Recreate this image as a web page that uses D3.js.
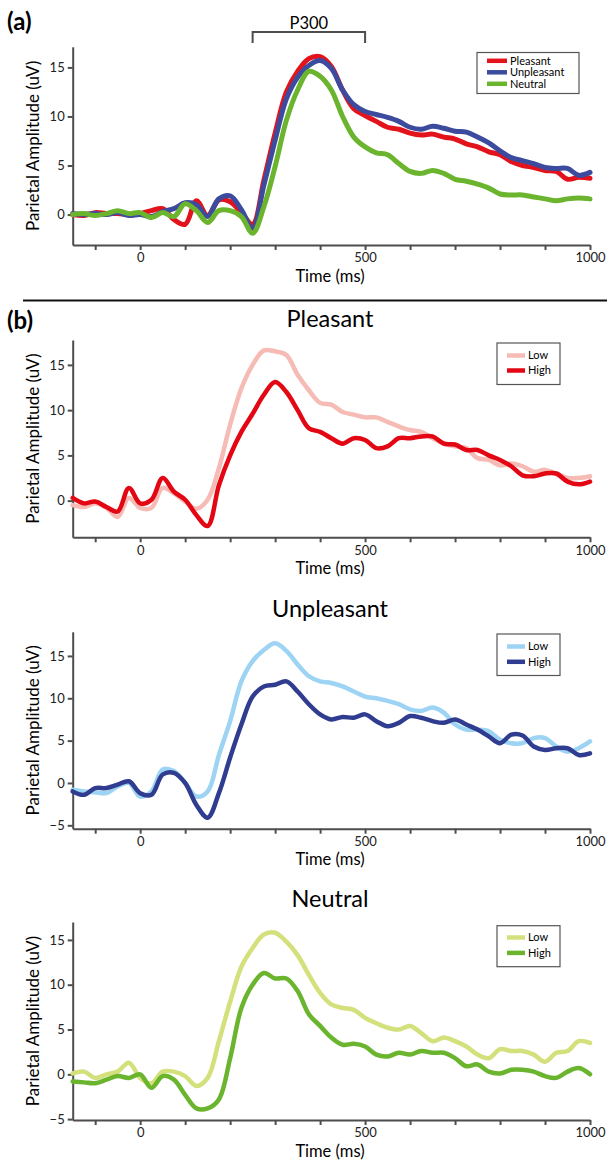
<!DOCTYPE html>
<html>
<head>
<meta charset="utf-8">
<script src="https://cdn.jsdelivr.net/npm/d3@7"></script>
<style>
  body { margin: 0; background: #fff; }
  svg { font-family: "Lato", "Open Sans", sans-serif; }
  .axis path, .axis line { stroke: #4d4d4d; stroke-width: 2px; }
  .axis text { font-size: 13px; fill: #222; font-family: "Lato", sans-serif; }
  .trace { fill: none; stroke-linejoin: round; stroke-linecap: round; }
</style>
</head>
<body>
<div id="chart"></div>
<script>
// time points (ms)
var times = [-150,-125,-100,-75,-50,-25,0,25,50,75,100,125,150,175,200,225,250,275,300,325,
  350,375,400,425,450,475,500,525,550,575,600,625,650,675,700,725,750,775,800,825,
  850,875,900,925,950,975,1000];

// (a) all trials
var allPleasant = [0.0,-0.1,0.2,0.1,0.1,0.0,0.1,0.4,0.6,-0.5,-1.0,1.4,-0.1,1.5,1.3,0.2,-1.0,3.5,8.3,12.5,
  14.6,15.9,16.1,15.1,12.7,10.8,10.1,9.5,8.9,8.7,8.3,8.1,8.2,7.9,7.7,7.2,6.9,6.4,6.1,5.4,
  5.0,4.8,4.5,4.4,3.6,3.8,3.7];
var allUnpleasant = [0.1,0.0,0.1,0.0,0.2,-0.1,0.0,-0.2,0.3,0.6,1.2,1.0,-0.2,1.6,1.9,0.5,-1.4,3.0,7.6,11.8,
  14.0,15.2,15.7,14.9,12.7,11.2,10.5,10.2,9.9,9.5,8.9,8.7,9.0,8.8,8.5,8.4,7.9,7.3,6.5,5.8,
  5.5,5.2,4.8,4.7,4.7,4.0,4.3];
var allNeutral = [0.0,0.1,-0.1,0.1,0.4,0.1,0.2,-0.3,0.2,-0.2,1.1,0.4,-0.8,0.4,0.4,-0.2,-1.9,0.8,4.9,9.6,
  12.7,14.6,14.1,12.7,10.0,7.9,6.9,6.3,6.1,5.2,4.4,4.2,4.5,4.2,3.6,3.4,3.1,2.7,2.1,2.0,
  2.0,1.8,1.6,1.4,1.6,1.7,1.6];

// (b) low / high groups
var pleasantLow = [-0.5,-0.7,-0.3,-0.8,-1.8,0.3,-0.8,-0.8,1.4,0.8,-0.1,-0.9,0.1,3.6,8.4,12.4,15.0,16.6,16.5,16.1,
  13.9,12.2,10.8,10.6,9.8,9.5,9.2,9.2,8.7,8.2,7.8,7.6,6.9,6.3,6.0,5.8,4.7,4.5,3.9,4.1,
  3.8,3.2,3.4,3.0,2.5,2.5,2.7];
var pleasantHigh = [0.3,-0.3,-0.1,-0.7,-1.2,1.4,-0.3,0.1,2.5,1.0,0.1,-1.6,-2.8,1.7,5.0,7.6,9.6,11.7,13.1,12.0,
  10.0,8.0,7.6,6.9,6.3,6.9,6.7,5.8,6.0,6.9,6.9,7.1,7.1,6.3,6.2,5.6,5.6,5.0,4.5,3.8,
  2.8,2.7,3.0,3.0,2.1,1.8,2.1];
var unpleasantLow = [-0.8,-1.0,-1.1,-1.2,-0.4,0.0,-1.6,-1.0,1.6,1.4,0.0,-1.6,-1.0,3.3,7.3,12.0,14.4,15.7,16.5,15.6,
  14.0,12.6,12.0,11.8,11.4,10.8,10.2,10.0,9.7,9.3,8.7,8.5,8.9,8.3,6.9,6.3,6.3,6.1,5.1,4.7,
  4.7,5.3,5.3,4.3,3.7,4.1,4.9];
var unpleasantHigh = [-1.0,-1.4,-0.6,-0.6,-0.2,0.2,-1.2,-1.4,1.0,1.2,0.0,-2.6,-4.1,-1.2,3.0,6.9,10.2,11.4,11.6,12.0,
  10.8,9.3,8.1,7.5,7.8,7.7,8.1,7.3,6.7,7.1,7.9,7.7,7.3,7.1,7.5,6.9,6.3,5.5,4.7,5.7,
  5.6,4.3,3.9,4.1,4.1,3.3,3.5];
var neutralLow = [0.1,0.3,-0.4,0.0,0.3,1.3,-0.4,-1.0,0.3,0.3,-0.2,-1.3,-0.4,3.7,8.1,12.0,14.1,15.6,15.8,14.8,
  13.3,11.1,9.1,7.8,7.4,7.2,6.3,5.7,5.2,5.0,5.4,4.6,3.7,4.1,3.7,3.1,2.2,1.8,2.8,2.6,
  2.6,2.2,1.4,2.4,2.6,3.7,3.5];
var neutralHigh = [-0.8,-0.9,-1.0,-0.6,-0.2,-0.4,0.0,-1.5,-0.2,-0.6,-2.3,-3.8,-3.8,-2.8,1.8,7.4,10.0,11.3,10.7,10.7,
  9.3,6.7,5.4,4.1,3.3,3.4,3.1,2.2,2.0,2.4,2.2,2.6,2.4,2.4,1.8,0.9,1.1,0.3,0.1,0.5,
  0.5,0.3,-0.2,-0.4,0.3,0.7,0.0];

var xTicks = [-100,0,100,200,300,400,500,600,700,800,900,1000];
var xLabels = [0,500,1000];

var W = 607, H = 1162;

var svg = d3.select('#chart').append('svg')
  .attr('width', W)
  .attr('height', H);

var x = d3.scaleLinear().domain([-150, 1000]).range([72.7, 590]);

var line = function(y) {
  return d3.line()
    .x(function(d, i) { return x(times[i]); })
    .y(function(d) { return y(d); })
    .curve(d3.curveCatmullRom.alpha(0.5));
};

function drawPanel(p) {
  var y = d3.scaleLinear().domain(p.yDomain).range(p.yRange);
  var g = svg.append('g');

  g.append('g')
    .attr('class', 'axis')
    .attr('transform', 'translate(0,' + p.yRange[0] + ')')
    .call(d3.axisBottom(x).tickValues(xTicks).tickSize(5).tickSizeOuter(0).tickPadding(3)
      .tickFormat(function(d) { return xLabels.indexOf(d) >= 0 ? d : ''; }));

  g.append('g')
    .attr('class', 'axis')
    .attr('transform', 'translate(' + x.range()[0] + ',0)')
    .call(d3.axisLeft(y).tickValues(p.yTicks).tickSize(5).tickSizeOuter(0).tickPadding(3));

  g.selectAll('.trace')
    .data(p.series)
    .enter()
    .append('path')
    .attr('class', 'trace')
    .attr('stroke-width', p.lw)
    .attr('stroke', function(d) { return d.color; })
    .attr('d', function(d) { return line(y)(d.values); });

  g.append('text')
    .attr('x', 330)
    .attr('y', p.yRange[0] + 36.5)
    .attr('text-anchor', 'middle')
    .style('font-size', '16.5px')
    .text('Time (ms)');

  g.append('text')
    .attr('transform', 'translate(39,' + ((p.yRange[0] + p.yRange[1]) / 2) + ') rotate(-90)')
    .attr('text-anchor', 'middle')
    .style('font-size', '17px')
    .text('Parietal Amplitude (uV)');

  if (p.title) {
    g.append('text')
      .attr('x', 330)
      .attr('y', p.titleY)
      .attr('text-anchor', 'middle')
      .style('font-size', '23.5px')
      .text(p.title);
  }

  // legend
  var L = p.legend;
  var lg = g.append('g');
  lg.append('rect')
    .attr('x', L.x).attr('y', L.y)
    .attr('width', L.w).attr('height', L.h)
    .attr('fill', '#fff')
    .attr('stroke', '#555')
    .attr('stroke-width', 1.2);
  var row = lg.selectAll('.row')
    .data(p.series)
    .enter()
    .append('g')
    .attr('transform', function(d, i) { return 'translate(0,' + (L.y + L.first + i * L.step) + ')'; });
  row.append('line')
    .attr('x1', L.x + L.sx).attr('x2', L.x + L.sx + L.sw)
    .attr('stroke', function(d) { return d.color; })
    .attr('stroke-width', 4.5);
  row.append('text')
    .attr('x', L.x + L.sx + L.sw + 3)
    .attr('y', 0)
    .attr('dy', '0.35em')
    .style('font-size', L.fs + 'px')
    .text(function(d) { return d.name; });
}

// (a)
drawPanel({
  lw: 5,
  yDomain: [-3.1, 17.1], yRange: [245, 46.8], yTicks: [0, 5, 10, 15],
  series: [
    { name: 'Pleasant', color: '#e3131b', values: allPleasant },
    { name: 'Unpleasant', color: '#3c4b9e', values: allUnpleasant },
    { name: 'Neutral', color: '#6ab42e', values: allNeutral }
  ],
  legend: { x: 477, y: 52.5, w: 102, h: 41, first: 8.3, step: 11.5, sx: 10, sw: 20, fs: 11 }
});

// P300 bracket
svg.append('path')
  .attr('d', 'M' + x(250) + ',43V32H' + x(500) + 'V43')
  .attr('fill', 'none')
  .attr('stroke', '#4d4d4d')
  .attr('stroke-width', 2);
svg.append('text')
  .attr('x', (x(250) + x(500)) / 2)
  .attr('y', 29)
  .attr('text-anchor', 'middle')
  .style('font-size', '16.5px')
  .text('P300');

svg.append('text').attr('x', 7).attr('y', 30)
  .style('font-size', '24px').style('font-weight', 'bold').text('(a)');

svg.append('line')
  .attr('x1', 23).attr('x2', 607).attr('y1', 300.5).attr('y2', 300.5)
  .attr('stroke', '#111').attr('stroke-width', 2);

svg.append('text').attr('x', 7).attr('y', 329)
  .style('font-size', '24px').style('font-weight', 'bold').text('(b)');

drawPanel({
  lw: 4.5,
  title: 'Pleasant', titleY: 326.5,
  yDomain: [-4.05, 17.75], yRange: [537.3, 340], yTicks: [0, 5, 10, 15],
  series: [
    { name: 'Low', color: '#f5bbb4', values: pleasantLow },
    { name: 'High', color: '#e30613', values: pleasantHigh }
  ],
  legend: { x: 497, y: 343, w: 63, h: 41.5, first: 12.5, step: 15, sx: 10, sw: 18, fs: 11 }
});

drawPanel({
  lw: 4.5,
  title: 'Unpleasant', titleY: 617,
  yDomain: [-5.4, 17.85], yRange: [828.7, 631.8], yTicks: [-5, 0, 5, 10, 15],
  series: [
    { name: 'Low', color: '#9dd4f4', values: unpleasantLow },
    { name: 'High', color: '#2f3c8f', values: unpleasantHigh }
  ],
  legend: { x: 497, y: 634, w: 63, h: 41.5, first: 12.5, step: 15.3, sx: 10, sw: 18, fs: 11 }
});

drawPanel({
  lw: 4.5,
  title: 'Neutral', titleY: 907,
  yDomain: [-5.1, 17.0], yRange: [1120, 922], yTicks: [-5, 0, 5, 10, 15],
  series: [
    { name: 'Low', color: '#d4e07b', values: neutralLow },
    { name: 'High', color: '#6ab42e', values: neutralHigh }
  ],
  legend: { x: 497, y: 925.7, w: 63, h: 41, first: 11.8, step: 15.4, sx: 10, sw: 18, fs: 11 }
});
</script>
</body>
</html>
